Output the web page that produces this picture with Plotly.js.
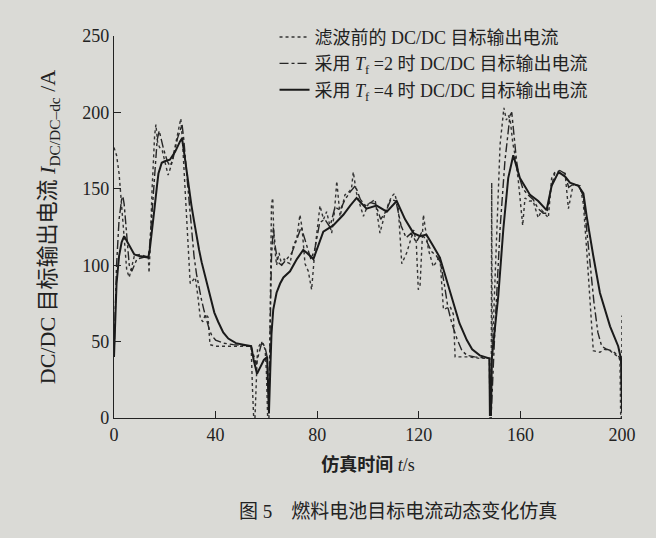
<!DOCTYPE html>
<html>
<head>
<meta charset="utf-8">
<script src="https://cdn.plot.ly/plotly-3.0.1.min.js"></script>
<style>
  html, body { margin: 0; padding: 0; background: #dadad6; }
  #chart { width: 656px; height: 538px; }
</style>
</head>
<body>
<div id="chart"></div>
<script>
// ---- Data ----
// Raw (before filtering) DC/DC target output current
const tRaw = [0,1,2,3,4,5,6,7,8,10,12,13.5,13.8,14.2,15,16,16.5,17.2,18,19,20,21.3,22.5,24,25.5,26.3,27,28,29,30,31,32,33,34,35,36,37,37.8,40,45,50,54,54.5,55,55.5,56,56.5,58,59.5,60,60.5,61,61.5,62,62.5,63,63.5,64,65,66,67,68,69.3,70.5,72,73.2,74,75.2,76.5,77.8,79.1,80,81.1,82.5,83.7,85.7,86.8,87.7,89,90.9,92.5,93.5,94.2,95.5,96.8,98.2,100.1,102.8,104.7,106.7,108,109.3,110.5,111.9,113.3,115.2,116.5,118,119,119.8,120.5,121.8,123.8,125.7,128.3,129.7,132.3,133.6,134.3,137,140,144,147.8,148,148.5,148.7,148.9,149.3,150.7,152,153.5,154.5,155.3,156,157,157.9,159.2,160.9,161.8,163.5,165,167,168.4,171,172.3,173.6,175.6,177.6,178.9,180.8,183.5,184.8,186.1,187.4,188.7,191.3,193,195.3,197,198.5,199.2,199.5,199.8,200];
const iRaw = [177,172,160,140,115,97,92,100,106,107,106,106,95,110,150,185,192,180,177,175,168,159,165,178,190,196,180,150,115,88,90,92,80,65,63,68,66,48,47,47,47,47,20,0,0,20,45,50,45,30,0,0,80,140,144,115,108,100,108,100,104,102,101,112,118,133,125,101,96,84,110,125,139,130,135,121,135,155,132,146,148,150,161,147,140,132,140,143,121,134,140,145,147,138,101,108,115,123,115,84,87,133,110,99,106,71,73,68,40,40,40,39,39,0,0,154,40,59,124,179,203,195,198,195,180,172,155,126,144,142,142,131,136,131,157,161,160,160,137,153,152,140,110,77,44,43,45,44,42,40,38,0,0,67];

// Filtered with Tf = 2
const tTf2 = [0,0.5,1,2,3,3.5,4,5,6,7,8,9,13.5,14,15,16,17,17.8,18.5,19.5,21,22,23,24,25,26.8,27.5,28.5,29.5,30.5,31.5,32.5,33.5,34.5,35.5,36.5,37.5,38.5,40,43,47,54,55,56,57,58.3,59.5,60.3,60.7,61,61.5,62,62.7,63.5,64.5,66,68,70,72,73.7,75.5,77.5,79,81,83,85,87,89,91,93,95,97,99,101,103,105,107,109,111,113,115,117,119,121,123,125,127,128.5,130,131.5,133,135,137,139,142,147.8,148,148.5,150,152,153.9,155.9,156.6,157.5,158.5,159.5,161,163,165,167,169,170.5,172,173.5,175.5,177.5,179,180.8,183,184.8,186,187.5,189,190.5,192,194,196,198.5,199.5,200];
const iTf2 = [40,75,100,130,143,145,140,120,100,96,100,104,106,112,135,160,182,188,182,176,168,165,168,175,183,192,182,162,142,122,106,94,85,77,70,63,58,54,51,49,48,47,40,35,42,50,46,40,20,3,60,105,125,112,102,100,104,108,117,125,115,104,110,128,130,125,138,136,143,148,152,143,139,141,140,130,135,143,142,126,118,121,115,121,116,109,106,102,88,72,62,52,44,41,40,39,2,2,59,124,168,198,200,185,168,158,150,146,143,137,134,134,150,160,162,160,151,153,152,145,125,100,75,56,47,45,44,41,38,5];

// Filtered with Tf = 4
const tTf4 = [0,0.5,1,2,3,4,5,6,7,8,10,13.5,14,15,16,17,17.5,18.8,20,22,24,26,26.8,27.5,28.5,29.5,30.5,31.5,32.5,33.5,34.5,35.5,36.5,37.5,38.5,39.5,41,43,45,48,51,54,55,56.3,57.5,59,60.3,60.7,61,61.5,62,62.7,64,65.4,66.7,69.3,72,74.5,76,78.5,80.5,82.4,86.3,90.3,93,95.5,99.4,103.4,107.4,111.3,114.6,117.9,120.5,123,125.5,128.3,131,133.6,136,138.9,141,144,147.8,148,148.4,148.8,151.3,153.3,155.2,157.2,159.8,163.8,167,170.3,172.3,175,177.6,179.5,182.8,184.8,186.1,188.7,191.3,195.3,198.5,199.7,200];
const iTf4 = [40,68,88,106,115,119,116,112,109,107,106,105,109,122,138,153,160,167,168,169,174,181,183,175,162,150,139,129,119,110,102,95,88,81,75,69,63,56,52,49,48,47,38,29,33,38,40,20,3,30,55,71,82,88,92,96,104,110,108,104,113,122,126,133,139,144,137,139,135,142,130,121,119,120,113,105,90,75,62,51,45,41,39,2,2,40,80,124,157,172,157,146,142,136,152,161,158,154,152,147,132,106,82,60,47,38,5];

const seriesNames = [
  '滤波前的 DC/DC 目标输出电流',
  '采用 <i>T</i><sub>f</sub> =2 时 DC/DC 目标输出电流',
  '采用 <i>T</i><sub>f</sub> =4 时 DC/DC 目标输出电流'
];
const xTicks = [0, 40, 80, 120, 160, 200];
const yTicks = [0, 50, 100, 150, 200, 250];

// ---- Drawing ----
const FONT = '"Liberation Serif", "Times New Roman", "Noto Sans CJK SC", serif';
const INK = '#222222';
const BG = '#dadad6';

const traces = [
  { x: tRaw, y: iRaw, name: seriesNames[0], mode: 'lines',
    line: { color: '#333333', width: 1.4, dash: 'dot' } },
  { x: tTf2, y: iTf2, name: seriesNames[1], mode: 'lines',
    line: { color: '#262626', width: 1.4, dash: 'dashdot' } },
  { x: tTf4, y: iTf4, name: seriesNames[2], mode: 'lines',
    line: { color: '#1a1a1a', width: 2, dash: 'solid' } }
];

const layout = {
  width: 656, height: 538,
  margin: { l: 114, r: 34, t: 36, b: 120 },
  paper_bgcolor: BG, plot_bgcolor: BG,
  font: { family: FONT, color: INK, size: 18 },
  showlegend: true,
  legend: {
    x: 0.316, y: 1.045, xanchor: 'left', yanchor: 'top',
    bgcolor: 'rgba(0,0,0,0)', borderwidth: 0,
    font: { family: FONT, size: 18, color: INK },
    itemwidth: 30, tracegroupgap: 0
  },
  xaxis: {
    range: [0, 200], tickvals: xTicks, ticktext: xTicks.map(String),
    showgrid: false, zeroline: false, showline: true, linecolor: INK, linewidth: 1.2,
    ticks: 'inside', ticklen: 7, tickcolor: INK, tickwidth: 1.2,
    tickfont: { family: FONT, size: 18, color: INK },
    title: { text: '<b>仿真时间</b> <i>t</i>/s', font: { family: FONT, size: 18, color: INK }, standoff: 14 }
  },
  yaxis: {
    range: [0, 250], tickvals: yTicks, ticktext: yTicks.map(String),
    showgrid: false, zeroline: false, showline: true, linecolor: INK, linewidth: 1.2,
    ticks: 'inside', ticklen: 7, tickcolor: INK, tickwidth: 1.2,
    tickfont: { family: FONT, size: 18, color: INK },
    title: { text: 'DC/DC 目标输出电流 <i>I</i><sub>DC/DC–dc</sub> /A', font: { family: FONT, size: 22, color: INK }, standoff: 20 }
  },
  annotations: [{
    xref: 'paper', yref: 'paper', x: 0.56, y: -0.245, xanchor: 'center', yanchor: 'middle',
    showarrow: false, text: '图 5　燃料电池目标电流动态变化仿真',
    font: { family: FONT, size: 19, color: INK }
  }]
};

Plotly.newPlot('chart', traces, layout, { displayModeBar: false, staticPlot: true });
</script>
</body>
</html>
